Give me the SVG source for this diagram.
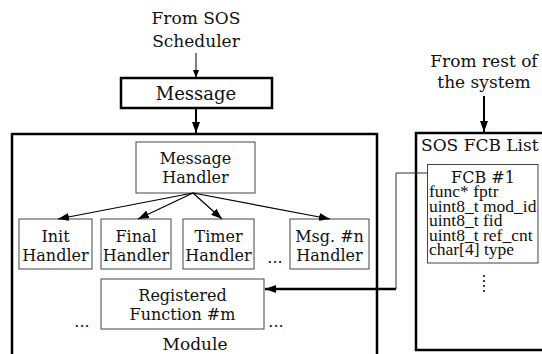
<svg xmlns="http://www.w3.org/2000/svg" width="542" height="354" viewBox="0 0 542 354">
<defs>
<marker id="ah" markerWidth="11" markerHeight="8" refX="11" refY="4" orient="auto" markerUnits="userSpaceOnUse">
<path d="M0,0 L11,4 L0,8 Z" fill="#000"/>
</marker>
<marker id="ahs" markerWidth="8" markerHeight="6" refX="8" refY="3" orient="auto" markerUnits="userSpaceOnUse">
<path d="M0,0 L8,3 L0,6 Z" fill="#000"/>
</marker>
</defs>
<style>
text{font-family:"DejaVu Serif",serif;font-size:16px;fill:#111}
.c{text-anchor:middle}
.t{font-size:17px}
.m{font-size:18px}
.f{font-family:"Liberation Serif",serif;font-size:17.5px}
.thin{fill:#fff;stroke:#444;stroke-width:1}
.thick{fill:none;stroke:#000;stroke-width:2.5}
</style>
<rect width="542" height="354" fill="#fff"/>
<g id="label-sos">
<text class="c t" x="196" y="24">From SOS</text>
<text class="c t" x="196" y="47">Scheduler</text>
</g>
<g id="label-rest">
<text class="c t" x="484" y="67">From rest of</text>
<text class="c t" x="484" y="88">the system</text>
</g>
<g id="message">
<rect x="121" y="78" width="151" height="30" fill="#fff" stroke="#000" stroke-width="2.5"/>
<text class="c m" x="196" y="100">Message</text>
</g>
<g id="module">
<path d="M12,354 L12,134 L377,134 L377,354" class="thick"/>
<text class="c t" x="195" y="350">Module</text>
</g>
<g id="msg-handler">
<rect x="136" y="142" width="119" height="51" class="thin"/>
<text class="c" x="195.5" y="164">Message</text>
<text class="c" x="195.5" y="183">Handler</text>
</g>
<g id="init">
<rect x="19" y="219" width="73" height="50" class="thin"/>
<text class="c" x="55.5" y="242">Init</text>
<text class="c" x="55.5" y="261">Handler</text>
</g>
<g id="final">
<rect x="101" y="219" width="70" height="50" class="thin"/>
<text class="c" x="136" y="242">Final</text>
<text class="c" x="136" y="261">Handler</text>
</g>
<g id="timer">
<rect x="183" y="219" width="71" height="50" class="thin"/>
<text class="c" x="218.5" y="242">Timer</text>
<text class="c" x="218.5" y="261">Handler</text>
</g>
<g id="msgn">
<rect x="290" y="219" width="79" height="50" class="thin"/>
<text class="c" x="329.5" y="242">Msg. #n</text>
<text class="c" x="329.5" y="261">Handler</text>
</g>
<text class="c" x="275" y="263">...</text>
<g id="regfunc">
<rect x="101" y="279" width="163" height="50" class="thin"/>
<text class="c" x="182.5" y="301">Registered</text>
<text class="c" x="182.5" y="320">Function #m</text>
</g>
<text class="c" x="82" y="327">...</text>
<text class="c" x="276" y="327">...</text>
<g id="fcb-list">
<path d="M545,350 L416,350 L416,133 L545,133" class="thick"/>
<text class="t" x="421" y="151">SOS FCB List</text>
</g>
<g id="fcb1">
<rect x="427.5" y="164.5" width="110.5" height="98.5" class="thin"/>
<text class="c" x="483" y="183">FCB #1</text>
<text class="f" x="429" y="197">func* fptr</text>
<text class="f" x="429" y="211.5">uint8_t mod_id</text>
<text class="f" x="429" y="226">uint8_t fid</text>
<text class="f" x="429" y="240.5">uint8_t ref_cnt</text>
<text class="f" x="429" y="255">char[4] type</text>
<g fill="#000">
<circle cx="484" cy="276" r="1"/>
<circle cx="484" cy="281" r="1"/>
<circle cx="484" cy="286" r="1"/>
<circle cx="484" cy="291" r="1"/>
</g>
</g>
<g id="connectors" fill="none" stroke="#000">
<line x1="196" y1="53" x2="196" y2="78" stroke-width="1" marker-end="url(#ahs)"/>
<line x1="196" y1="108" x2="196" y2="133" stroke-width="2" marker-end="url(#ah)"/>
<line x1="484" y1="96" x2="484" y2="132" stroke-width="2" marker-end="url(#ah)"/>
<line x1="193" y1="193" x2="58" y2="219" stroke-width="1.2" marker-end="url(#ah)"/>
<line x1="193" y1="193" x2="138" y2="219" stroke-width="1.2" marker-end="url(#ah)"/>
<line x1="193" y1="193" x2="222" y2="219" stroke-width="1.2" marker-end="url(#ah)"/>
<line x1="193" y1="193" x2="330" y2="219" stroke-width="1.2" marker-end="url(#ah)"/>
<polyline points="428,173 396,173 396,289" stroke-width="1" stroke="#333"/>
<line x1="396" y1="289" x2="265" y2="289" stroke-width="2.5" marker-end="url(#ah)"/>
</g>
</svg>
